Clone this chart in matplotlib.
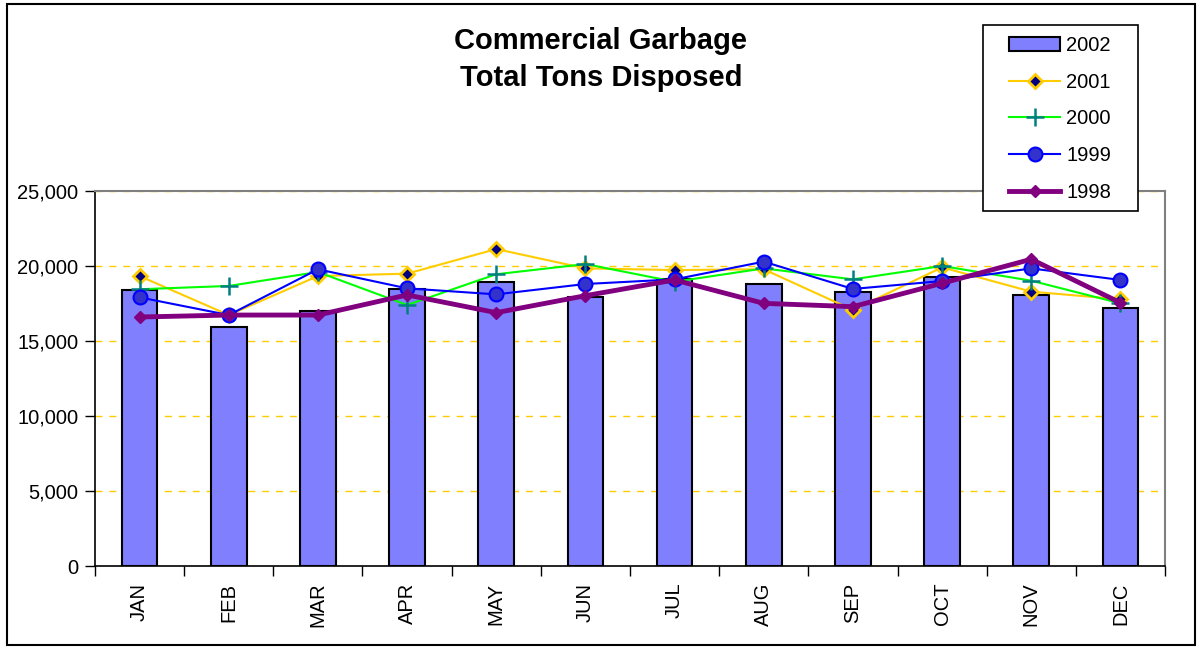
import matplotlib
matplotlib.use("Agg")
import matplotlib.pyplot as plt
from matplotlib.patches import Rectangle
from matplotlib.ticker import FuncFormatter, MultipleLocator
import numpy as np

plt.rcParams['font.family'] = ['Liberation Sans', 'DejaVu Sans']

months = ["JAN", "FEB", "MAR", "APR", "MAY", "JUN", "JUL", "AUG", "SEP", "OCT", "NOV", "DEC"]
tons_2002 = [18400, 15950, 17000, 18470, 18920, 17950, 19150, 18800, 18290, 19290, 18070, 17220]
tons_2001 = [19330, 16730, 19330, 19490, 21130, 19840, 19730, 19780, 17070, 19910, 18290, 17780]
tons_2000 = [18450, 18670, 19600, 17400, 19450, 20130, 18950, 19840, 19110, 20000, 19020, 17510]
tons_1999 = [17910, 16730, 19780, 18510, 18110, 18800, 19110, 20290, 18470, 19000, 19840, 19070]
tons_1998 = [16600, 16730, 16730, 18070, 16890, 18020, 19070, 17510, 17290, 18850, 20450, 17550]

W, H = 1201, 648
fig = plt.figure(figsize=(W / 100, H / 100), dpi=100)
ax = fig.add_axes([95 / W, 1 - 566 / H, (1165 - 95) / W, (566 - 191) / H])

x = np.arange(len(months))
b = ax.bar(x, tons_2002, width=0.4, color="#8080FF", edgecolor="black", linewidth=1.5,
           label="2002", zorder=2)
l1, = ax.plot(x, tons_2001, color="#FFCC00", lw=1.5, marker="D", ms=7, mfc="#000080",
              mec="#FFCC00", mew=2, label="2001", zorder=3)
l2, = ax.plot(x, tons_2000, color="#00FF00", lw=1.5, marker="+", ms=13, mec="#008080",
              mew=1.8, label="2000", zorder=4)
l3, = ax.plot(x, tons_1999, color="#0000FF", lw=1.5, marker="o", ms=10, mfc="#3333CC",
              mec="#0000FF", mew=1.5, label="1999", zorder=5)
l4, = ax.plot(x, tons_1998, color="#800080", lw=3.5, marker="D", ms=6, mfc="#800080",
              mec="#800080", label="1998", zorder=6)

ax.set_xlim(-0.5, len(months) - 0.5)
ax.set_ylim(0, 25000)
ax.yaxis.set_major_locator(MultipleLocator(5000))
ax.yaxis.set_major_formatter(FuncFormatter(lambda v, p: f"{int(v):,}"))
ax.set_xticks(x)
ax.set_xticklabels(months, rotation=90)
ax.set_xticks(np.arange(-0.5, len(months)), minor=True)
ax.tick_params(axis="x", which="major", length=0, pad=12, labelsize=14.5)
ax.tick_params(axis="x", which="minor", length=7, width=1, direction="out")
ax.tick_params(axis="y", which="major", length=7, width=1, direction="out", labelsize=14.5, pad=5)

ax.yaxis.grid(True, color="#FFCC00", linestyle=(0, (5, 5)), linewidth=1, zorder=0)
ax.set_axisbelow(True)
for s in ["top", "right"]:
    ax.spines[s].set_color("#808080")
    ax.spines[s].set_linewidth(1.5)
for s in ["left", "bottom"]:
    ax.spines[s].set_color("black")
    ax.spines[s].set_linewidth(1.2)

fig.text(601 / W, 1 - 41 / H, "Commercial Garbage", ha="center", va="center",
         fontsize=21, fontweight="bold")
fig.text(601 / W, 1 - 78 / H, "Total Tons Disposed", ha="center", va="center",
         fontsize=21, fontweight="bold")

# legend frame drawn explicitly
fig.patches.append(Rectangle((983 / W, 1 - 211 / H), 155 / W, 186 / H,
                             transform=fig.transFigure, facecolor="white", edgecolor="black",
                             linewidth=1.2, zorder=9))
leg = fig.legend([b, l1, l2, l3, l4], ["2002", "2001", "2000", "1999", "1998"],
                 loc="upper left", bbox_to_anchor=(1009 / W, 1 - 36 / H),
                 bbox_transform=fig.transFigure, borderaxespad=0, borderpad=0,
                 fontsize=14.5, frameon=False, handlelength=2.55, labelspacing=0.88,
                 handletextpad=0.3)
leg.set_zorder(10)

fig.patches.append(Rectangle((7 / W, 1 - 645 / H), (1195 - 7) / W, (645 - 4) / H,
                             transform=fig.transFigure, fill=False, edgecolor="black",
                             linewidth=1.5))

fig.savefig("out.png", dpi=100)
